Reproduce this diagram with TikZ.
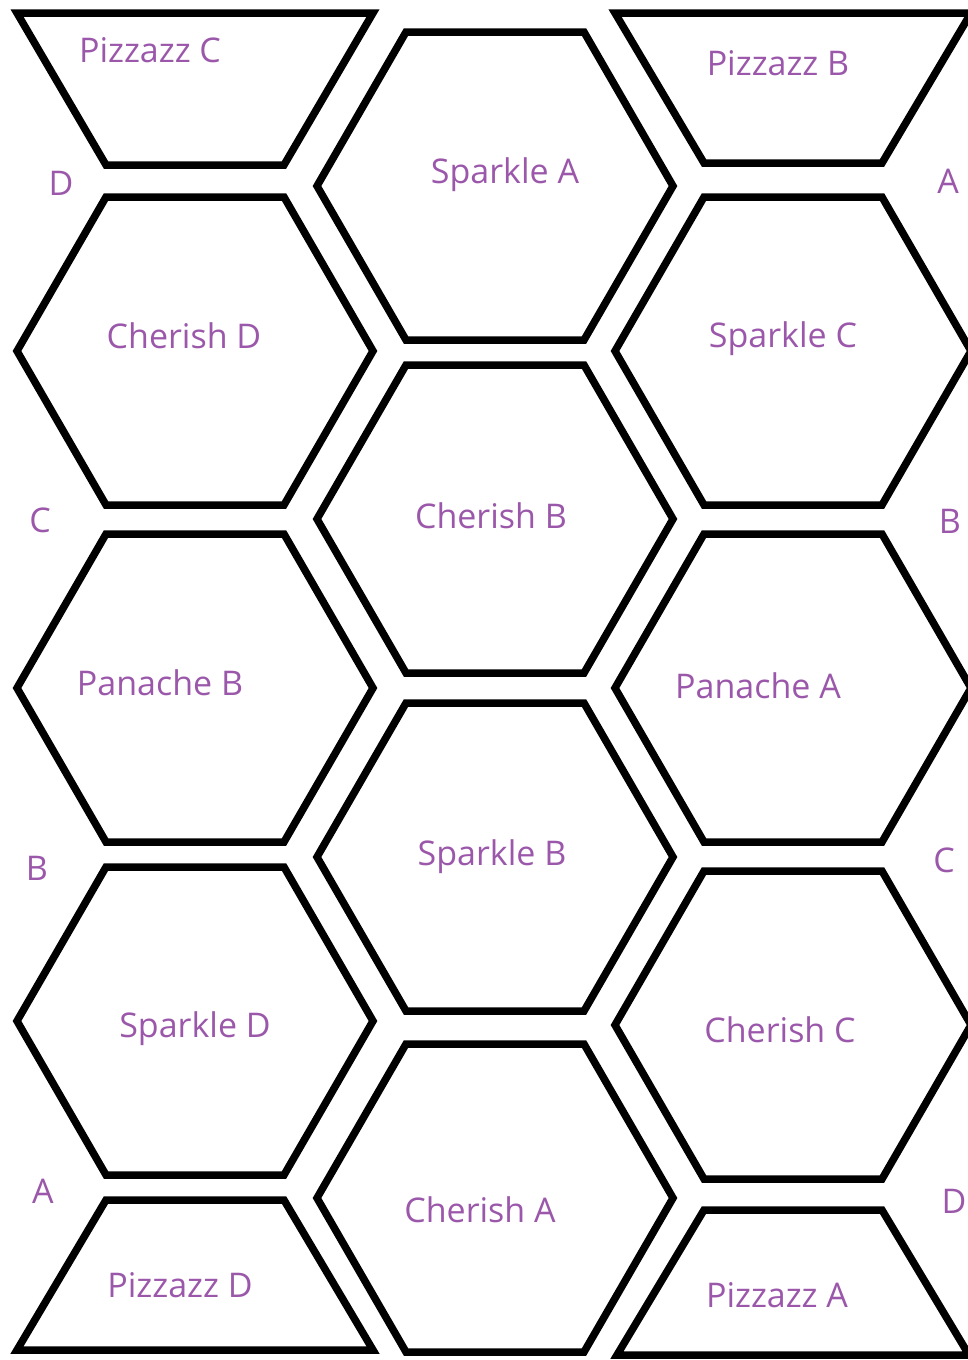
\documentclass[tikz,border=0pt]{standalone}
\usepackage{fontspec}
\setmainfont{Open Sans}
\definecolor{lbl}{RGB}{155,88,170}
\tikzset{
  piece/.style={draw=black, line width=7.5pt, line join=miter},
  piecename/.style={text=lbl, font=\fontsize{34}{40}\selectfont, anchor=base, inner sep=0pt},
  sidelabel/.style={text=lbl, font=\fontsize{34}{40}\selectfont, anchor=base, inner sep=0pt}
}
\newcommand\hexpiece[2]{%
  \draw[piece] (#1-178,#2) -- (#1-89,#2-154) -- (#1+89,#2-154) -- (#1+178,#2)
    -- (#1+89,#2+154) -- (#1-89,#2+154) -- cycle;}
\begin{document}
\begin{tikzpicture}[x=1pt,y=-1pt]
\useasboundingbox (0,0) rectangle (968,1360);
\fill[white] (0,0) rectangle (968,1360);
\clip (0,0) rectangle (968,1360);
% left column
\draw[piece] (17,13) -- (373,13) -- (284,165) -- (106,165) -- cycle;
\hexpiece{195}{351}
\hexpiece{195}{688}
\hexpiece{195}{1021}
\draw[piece] (106,1200) -- (284,1200) -- (373,1350) -- (17,1350) -- cycle;
% middle column
\hexpiece{495}{186}
\hexpiece{495}{519}
\hexpiece{495}{857}
\hexpiece{495}{1198}
% right column
\draw[piece] (615,13) -- (971,13) -- (882,163) -- (704,163) -- cycle;
\hexpiece{793}{351}
\hexpiece{793}{688}
\hexpiece{793}{1025}
\draw[piece] (704,1210) -- (882,1210) -- (969,1355) -- (617,1355) -- cycle;
% names
\node[piecename] (pc) at (150,62) {Pizzazz C};
\node[piecename] (pb) at (778,75) {Pizzazz B};
\node[piecename] (sa) at (505,183) {Sparkle A};
\node[piecename] (cd) at (184,348) {Cherish D};
\node[piecename] (sc) at (783,347) {Sparkle C};
\node[piecename] (cb) at (491,528) {Cherish B};
\node[piecename] (pnb) at (160,695) {Panache B};
\node[piecename] (pna) at (758,698) {Panache A};
\node[piecename] (sb) at (492,865) {Sparkle B};
\node[piecename] (sd) at (195,1037) {Sparkle D};
\node[piecename] (cc) at (780,1042) {Cherish C};
\node[piecename] (ca) at (480,1222) {Cherish A};
\node[piecename] (pd) at (180,1297) {Pizzazz D};
\node[piecename] (pa) at (777,1307) {Pizzazz A};
% side letters
\node[sidelabel] (l1) at (61,195) {D};
\node[sidelabel] (r1) at (948,193) {A};
\node[sidelabel] (l2) at (40,532) {C};
\node[sidelabel] (r2) at (950,533) {B};
\node[sidelabel] (l3) at (37,880) {B};
\node[sidelabel] (r3) at (944,872) {C};
\node[sidelabel] (l4) at (43,1203) {A};
\node[sidelabel] (r4) at (954,1213) {D};
\end{tikzpicture}
\end{document}
